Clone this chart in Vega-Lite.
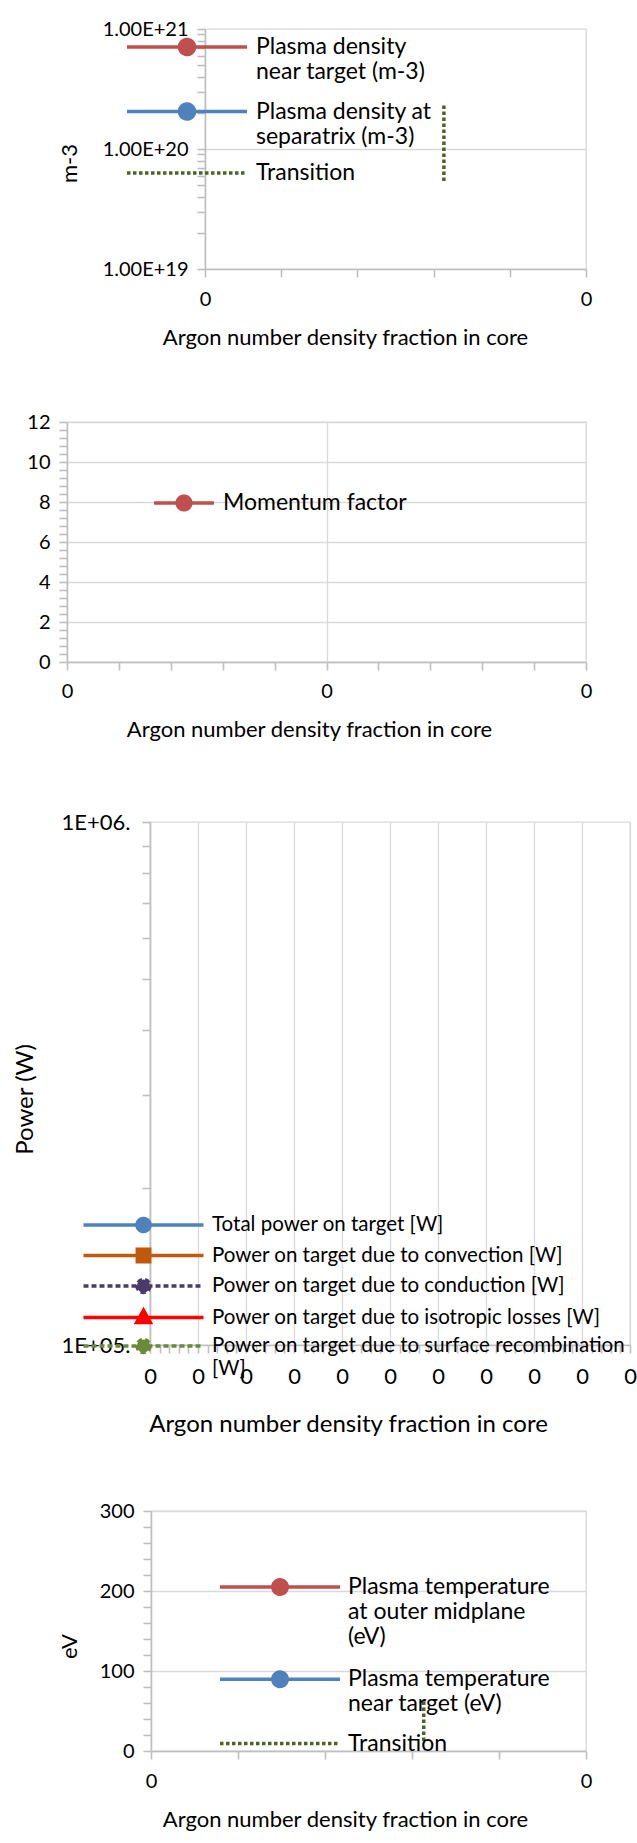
{
  "$schema": "https://vega.github.io/schema/vega-lite/v6.json",
  "background": "white",
  "padding": {"left": 0, "top": 18, "right": 0, "bottom": 0},
  "spacing": 0,
  "resolve": {"scale": {"fill": "independent", "stroke": "independent", "shape": "independent", "strokeDash": "independent"}},
  "vconcat": [
    {
      "spacing": 0,
      "resolve": {"scale": {"fill": "independent", "stroke": "independent", "shape": "independent", "strokeDash": "independent"}},
      "hconcat": [
        {"width": 57, "height": 382, "data": {"values": []}, "mark": "point", "view": {"stroke": null}},
        {
          "width": 381, "height": 240,
          "data": {"values": [
            {"series": "Plasma density near target (m-3)", "argon": null, "density": null},
            {"series": "Plasma density at separatrix (m-3)", "argon": null, "density": null},
            {"series": "Transition", "argon": 0.000627, "density": 5.4e19},
            {"series": "Transition", "argon": 0.000627, "density": 2.4e20}
          ]},
          "encoding": {
            "x": {"field": "argon", "type": "quantitative", "scale": {"domain": [0, 0.001], "nice": false, "zero": false},
              "axis": {"values": [0, 0.0002, 0.0004, 0.0006, 0.0008, 0.001],
                "labelExpr": "datum.value == 0 || datum.value == 0.001 ? '0' : ''",
                "grid": false, "tickSize": 8, "labelPadding": 12, "labelFontSize": 20,
                "title": "Argon number density fraction in core", "titleFontSize": 22,
                "titleX": 140, "titleY": 68, "titleBaseline": "middle", "titleAlign": "center"}},
            "y": {"field": "density", "type": "quantitative", "scale": {"type": "log", "domain": [1e19, 1e21], "nice": false},
              "axis": {"values": [1e19, 2e19, 3e19, 4e19, 5e19, 6e19, 7e19, 8e19, 9e19, 1e20, 2e20, 3e20, 4e20, 5e20, 6e20, 7e20, 8e20, 9e20, 1e21],
                "labelExpr": "indexof([1e19, 1e20, 1e21], datum.value) >= 0 ? '1.00E+' + round(log(datum.value) / LN10) : ''",
                "grid": true, "gridOpacity": {"condition": {"test": "datum.value == 1e20", "value": 1}, "value": 0},
                "tickSize": 8, "labelPadding": 9, "labelFontSize": 20,
                "title": "m-3", "titleFontSize": 22, "titleX": -136, "titleY": 134, "titleAngle": 270, "titleBaseline": "middle", "titleAlign": "center"}}
          },
          "layer": [
            {
              "transform": [{"filter": "datum.series === 'Transition'"}],
              "mark": {"type": "line", "color": "#4F6228", "strokeWidth": 3.5, "strokeDash": [3.5, 2.5], "strokeCap": "butt"},
              "encoding": {"order": {"field": "density"}}
            },
            {
              "transform": [{"filter": "datum.series !== 'Transition'"}],
              "mark": {"type": "point", "filled": true, "opacity": 1},
              "encoding": {
                "fill": {"field": "series", "type": "nominal",
                  "scale": {"domain": ["Plasma density near target (m-3)", "Plasma density at separatrix (m-3)", "Transition"], "range": ["#C0504D", "#4F81BD", "#4F6228"]},
                  "legend": {"title": null, "legendX": -30, "legendY": 6, "labelOffset": 57, "rowPadding": 12.5, "labelFontSize": 23,
                    "labelExpr": "datum.label == 'Plasma density near target (m-3)' ? ['Plasma density', 'near target (m-3)'] : datum.label == 'Plasma density at separatrix (m-3)' ? ['Plasma density at', 'separatrix (m-3)'] : datum.label",
                    "encode": {"labels": {"lineHeight": {"value": 24}}}}},
                "stroke": {"field": "series", "type": "nominal",
                  "scale": {"domain": ["Plasma density near target (m-3)", "Plasma density at separatrix (m-3)", "Transition"], "range": ["#C0504D", "#4F81BD", "#4F6228"]},
                  "legend": {"title": null, "legendX": -30, "legendY": 6, "labelOffset": 57, "rowPadding": 12.5, "labelFontSize": 23,
                    "labelExpr": "datum.label == 'Plasma density near target (m-3)' ? ['Plasma density', 'near target (m-3)'] : datum.label == 'Plasma density at separatrix (m-3)' ? ['Plasma density at', 'separatrix (m-3)'] : datum.label",
                    "encode": {"labels": {"lineHeight": {"value": 24}}}}},
                "shape": {"field": "series", "type": "nominal",
                  "scale": {"domain": ["Plasma density near target (m-3)", "Plasma density at separatrix (m-3)", "Transition"],
                    "range": ["M-6,0H6M0.75,0A0.75,0.75,0,1,1,-0.75,0A0.75,0.75,0,1,1,0.75,0Z", "M-6,0H6M0.75,0A0.75,0.75,0,1,1,-0.75,0A0.75,0.75,0,1,1,0.75,0Z", "M-6,0H6"]},
                  "legend": {"title": null, "legendX": -30, "legendY": 6, "labelOffset": 57, "rowPadding": 12.5, "labelFontSize": 23,
                    "labelExpr": "datum.label == 'Plasma density near target (m-3)' ? ['Plasma density', 'near target (m-3)'] : datum.label == 'Plasma density at separatrix (m-3)' ? ['Plasma density at', 'separatrix (m-3)'] : datum.label",
                    "encode": {"labels": {"lineHeight": {"value": 24}}}}},
                "strokeDash": {"field": "series", "type": "nominal",
                  "scale": {"domain": ["Plasma density near target (m-3)", "Plasma density at separatrix (m-3)", "Transition"], "range": [[1, 0], [1, 0], [3.5, 2.5]]},
                  "legend": {"title": null, "legendX": -30, "legendY": 6, "labelOffset": 57, "rowPadding": 12.5, "labelFontSize": 23,
                    "labelExpr": "datum.label == 'Plasma density near target (m-3)' ? ['Plasma density', 'near target (m-3)'] : datum.label == 'Plasma density at separatrix (m-3)' ? ['Plasma density at', 'separatrix (m-3)'] : datum.label",
                    "encode": {"labels": {"lineHeight": {"value": 24}}}}}
              }
            }
          ]
        }
      ]
    },
    {
      "spacing": 0,
      "resolve": {"scale": {"fill": "independent", "stroke": "independent", "shape": "independent", "strokeDash": "independent"}},
      "hconcat": [
        {"width": 26, "height": 388, "data": {"values": []}, "mark": "point", "view": {"stroke": null}},
        {
          "width": 519, "height": 240,
          "data": {"values": [{"series": "Momentum factor", "argon": null, "factor": null}]},
          "mark": {"type": "point", "filled": true, "opacity": 1},
          "encoding": {
            "x": {"field": "argon", "type": "quantitative", "scale": {"domain": [0, 0.001], "nice": false, "zero": false},
              "axis": {"values": [0, 0.0001, 0.0002, 0.0003, 0.0004, 0.0005, 0.0006, 0.0007, 0.0008, 0.0009, 0.001],
                "labelExpr": "datum.value == 0 || datum.value == 0.0005 || datum.value == 0.001 ? '0' : ''",
                "grid": true, "gridOpacity": {"condition": {"test": "datum.value == 0.0005", "value": 1}, "value": 0},
                "tickSize": 8, "labelPadding": 11, "labelFontSize": 20,
                "title": "Argon number density fraction in core", "titleFontSize": 22,
                "titleX": 242, "titleY": 67, "titleBaseline": "middle", "titleAlign": "center"}},
            "y": {"field": "factor", "type": "quantitative", "scale": {"domain": [0, 12], "nice": false},
              "axis": {"values": [0, 0.4, 0.8, 1.2, 1.6, 2, 2.4, 2.8, 3.2, 3.6, 4, 4.4, 4.8, 5.2, 5.6, 6, 6.4, 6.8, 7.2, 7.6, 8, 8.4, 8.8, 9.2, 9.6, 10, 10.4, 10.8, 11.2, 11.6, 12],
                "labelExpr": "datum.value % 2 == 0 ? format(datum.value, 'd') : ''",
                "grid": true, "gridOpacity": {"condition": {"test": "datum.value % 2 == 0", "value": 1}, "value": 0},
                "tickSize": 8, "labelPadding": 9, "labelFontSize": 20, "title": null}},
            "fill": {"field": "series", "type": "nominal", "scale": {"domain": ["Momentum factor"], "range": ["#C0504D"]},
              "legend": {"title": null, "legendX": 105, "legendY": 69, "labelOffset": 27, "labelFontSize": 23}},
            "stroke": {"field": "series", "type": "nominal", "scale": {"domain": ["Momentum factor"], "range": ["#C0504D"]},
              "legend": {"title": null, "legendX": 105, "legendY": 69, "labelOffset": 27, "labelFontSize": 23}},
            "shape": {"field": "series", "type": "nominal", "scale": {"domain": ["Momentum factor"], "range": ["M-3,0H3M0.68,0A0.68,0.68,0,1,1,-0.68,0A0.68,0.68,0,1,1,0.68,0Z"]},
              "legend": {"title": null, "legendX": 105, "legendY": 69, "labelOffset": 27, "labelFontSize": 23}},
            "strokeDash": {"field": "series", "type": "nominal", "scale": {"domain": ["Momentum factor"], "range": [[1, 0]]},
              "legend": {"title": null, "legendX": 105, "legendY": 69, "labelOffset": 27, "labelFontSize": 23}}
          }
        }
      ]
    },
    {
      "spacing": 0,
      "resolve": {"scale": {"fill": "independent", "stroke": "independent", "shape": "independent", "strokeDash": "independent"}},
      "hconcat": [
        {"width": 12, "height": 678, "data": {"values": []}, "mark": "point", "view": {"stroke": null}},
        {
          "width": 480, "height": 523,
          "data": {"values": [
            {"series": "Total power on target [W]", "argon": null, "power": null},
            {"series": "Power on target due to convection [W]", "argon": null, "power": null},
            {"series": "Power on target due to conduction [W]", "argon": null, "power": null},
            {"series": "Power on target due to isotropic losses [W]", "argon": null, "power": null},
            {"series": "Power on target due to surface recombination [W]", "argon": null, "power": null}
          ]},
          "mark": {"type": "point", "filled": true, "opacity": 1},
          "encoding": {
            "x": {"field": "argon", "type": "quantitative", "scale": {"domain": [0, 0.001], "nice": false, "zero": false},
              "axis": {"values": [0, 0.00002, 0.00004, 0.00006, 0.00008, 0.0001, 0.00012, 0.00014, 0.00016, 0.00018, 0.0002, 0.00022, 0.00024, 0.00026, 0.00028, 0.0003, 0.00032, 0.00034, 0.00036, 0.00038, 0.0004, 0.00042, 0.00044, 0.00046, 0.00048, 0.0005, 0.00052, 0.00054, 0.00056, 0.00058, 0.0006, 0.00062, 0.00064, 0.00066, 0.00068, 0.0007, 0.00072, 0.00074, 0.00076, 0.00078, 0.0008, 0.00082, 0.00084, 0.00086, 0.00088, 0.0009, 0.00092, 0.00094, 0.00096, 0.00098, 0.001],
                "labelExpr": "abs(datum.value * 10000 - round(datum.value * 10000)) < 0.000001 ? '0' : ''",
                "grid": true, "gridOpacity": {"condition": {"test": "abs(datum.value * 10000 - round(datum.value * 10000)) < 0.000001", "value": 1}, "value": 0},
                "tickSize": 8, "labelPadding": 13, "labelFontSize": 22,
                "title": "Argon number density fraction in core", "titleFontSize": 24,
                "titleX": 198, "titleY": 79, "titleBaseline": "middle", "titleAlign": "center"}},
            "y": {"field": "power", "type": "quantitative", "scale": {"type": "log", "domain": [1e5, 1e6], "nice": false},
              "axis": {"values": [1e5, 2e5, 3e5, 4e5, 5e5, 6e5, 7e5, 8e5, 9e5, 1e6],
                "labelExpr": "datum.value == 1e6 ? '1E+06.' : datum.value == 1e5 ? '1E+05.' : ''",
                "grid": false, "tickSize": 8, "labelPadding": 12, "labelFontSize": 22,
                "title": "Power (W)", "titleFontSize": 24, "titleX": -125, "titleY": 277, "titleAngle": 270, "titleBaseline": "middle", "titleAlign": "center"}},
            "fill": {"field": "series", "type": "nominal",
              "scale": {"domain": ["Total power on target [W]", "Power on target due to convection [W]", "Power on target due to conduction [W]", "Power on target due to isotropic losses [W]", "Power on target due to surface recombination [W]"],
                "range": ["#4F81BD", "#C0590E", "#4A3C6A", "#FF0000", "#6A8A3A"]},
              "legend": {"title": null, "legendX": -18.5, "legendY": 391, "labelOffset": 56.5, "rowPadding": 2.5, "labelFontSize": 20.5,
                "labelExpr": "datum.label == 'Power on target due to surface recombination [W]' ? ['Power on target due to surface recombination', '[W]'] : datum.label",
                "encode": {"labels": {"lineHeight": {"value": 21}}}}},
            "stroke": {"field": "series", "type": "nominal",
              "scale": {"domain": ["Total power on target [W]", "Power on target due to convection [W]", "Power on target due to conduction [W]", "Power on target due to isotropic losses [W]", "Power on target due to surface recombination [W]"],
                "range": ["#4F81BD", "#C0590E", "#4A3C6A", "#FF0000", "#6A8A3A"]},
              "legend": {"title": null, "legendX": -18.5, "legendY": 391, "labelOffset": 56.5, "rowPadding": 2.5, "labelFontSize": 20.5,
                "labelExpr": "datum.label == 'Power on target due to surface recombination [W]' ? ['Power on target due to surface recombination', '[W]'] : datum.label",
                "encode": {"labels": {"lineHeight": {"value": 21}}}}},
            "shape": {"field": "series", "type": "nominal",
              "scale": {"domain": ["Total power on target [W]", "Power on target due to convection [W]", "Power on target due to conduction [W]", "Power on target due to isotropic losses [W]", "Power on target due to surface recombination [W]"],
                "range": ["M-6,0H6M0.65,0A0.65,0.65,0,1,1,-0.65,0A0.65,0.65,0,1,1,0.65,0Z", "M-6,0H6M-0.62,-0.62H0.62V0.62H-0.62Z", "M-6,0H6M0.65,0A0.65,0.65,0,1,1,-0.65,0A0.65,0.65,0,1,1,0.65,0Z", "M-6,0H6M0,-0.72L0.68,0.5H-0.68Z", "M-6,0H6M0.65,0A0.65,0.65,0,1,1,-0.65,0A0.65,0.65,0,1,1,0.65,0Z"]},
              "legend": {"title": null, "legendX": -18.5, "legendY": 391, "labelOffset": 56.5, "rowPadding": 2.5, "labelFontSize": 20.5,
                "labelExpr": "datum.label == 'Power on target due to surface recombination [W]' ? ['Power on target due to surface recombination', '[W]'] : datum.label",
                "encode": {"labels": {"lineHeight": {"value": 21}}}}},
            "strokeDash": {"field": "series", "type": "nominal",
              "scale": {"domain": ["Total power on target [W]", "Power on target due to convection [W]", "Power on target due to conduction [W]", "Power on target due to isotropic losses [W]", "Power on target due to surface recombination [W]"],
                "range": [[1, 0], [1, 0], [5, 3], [1, 0], [5, 3]]},
              "legend": {"title": null, "legendX": -18.5, "legendY": 391, "labelOffset": 56.5, "rowPadding": 2.5, "labelFontSize": 20.5,
                "labelExpr": "datum.label == 'Power on target due to surface recombination [W]' ? ['Power on target due to surface recombination', '[W]'] : datum.label",
                "encode": {"labels": {"lineHeight": {"value": 21}}}}}
          }
        }
      ]
    },
    {
      "spacing": 0,
      "resolve": {"scale": {"fill": "independent", "stroke": "independent", "shape": "independent", "strokeDash": "independent"}},
      "hconcat": [
        {"width": 57, "height": 10, "data": {"values": []}, "mark": "point", "view": {"stroke": null}},
        {
          "width": 435, "height": 240,
          "data": {"values": [
            {"series": "Plasma temperature at outer midplane (eV)", "argon": null, "temp": null},
            {"series": "Plasma temperature near target (eV)", "argon": null, "temp": null},
            {"series": "Transition", "argon": 0.000627, "temp": 12.5},
            {"series": "Transition", "argon": 0.000627, "temp": 64}
          ]},
          "encoding": {
            "x": {"field": "argon", "type": "quantitative", "scale": {"domain": [0, 0.001], "nice": false, "zero": false},
              "axis": {"values": [0, 0.0002, 0.0004, 0.0006, 0.0008, 0.001],
                "labelExpr": "datum.value == 0 || datum.value == 0.001 ? '0' : ''",
                "grid": false, "tickSize": 8, "labelPadding": 12, "labelFontSize": 20,
                "title": "Argon number density fraction in core", "titleFontSize": 22,
                "titleX": 194, "titleY": 68, "titleBaseline": "middle", "titleAlign": "center"}},
            "y": {"field": "temp", "type": "quantitative", "scale": {"domain": [0, 300], "nice": false},
              "axis": {"values": [0, 20, 40, 60, 80, 100, 120, 140, 160, 180, 200, 220, 240, 260, 280, 300],
                "labelExpr": "datum.value % 100 == 0 ? format(datum.value, 'd') : ''",
                "grid": true, "gridOpacity": {"condition": {"test": "datum.value % 100 == 0", "value": 1}, "value": 0},
                "tickSize": 8, "labelPadding": 9, "labelFontSize": 20,
                "title": "eV", "titleFontSize": 22, "titleX": -82, "titleY": 135, "titleAngle": 270, "titleBaseline": "middle", "titleAlign": "center"}}
          },
          "layer": [
            {
              "transform": [{"filter": "datum.series === 'Transition'"}],
              "mark": {"type": "line", "color": "#4F6228", "strokeWidth": 3.5, "strokeDash": [3.5, 2.5], "strokeCap": "butt"},
              "encoding": {"order": {"field": "temp"}}
            },
            {
              "transform": [{"filter": "datum.series !== 'Transition'"}],
              "mark": {"type": "point", "filled": true, "opacity": 1},
              "encoding": {
                "fill": {"field": "series", "type": "nominal",
                  "scale": {"domain": ["Plasma temperature at outer midplane (eV)", "Plasma temperature near target (eV)", "Transition"], "range": ["#C0504D", "#4F81BD", "#4F6228"]},
                  "legend": {"title": null, "legendX": 117, "legendY": 64, "labelOffset": 56, "rowPadding": 15.25, "labelFontSize": 23,
                    "labelExpr": "datum.label == 'Plasma temperature at outer midplane (eV)' ? ['Plasma temperature', 'at outer midplane', '(eV)'] : datum.label == 'Plasma temperature near target (eV)' ? ['Plasma temperature', 'near target (eV)'] : datum.label",
                    "encode": {"labels": {"lineHeight": {"value": 24}}}}},
                "stroke": {"field": "series", "type": "nominal",
                  "scale": {"domain": ["Plasma temperature at outer midplane (eV)", "Plasma temperature near target (eV)", "Transition"], "range": ["#C0504D", "#4F81BD", "#4F6228"]},
                  "legend": {"title": null, "legendX": 117, "legendY": 64, "labelOffset": 56, "rowPadding": 15.25, "labelFontSize": 23,
                    "labelExpr": "datum.label == 'Plasma temperature at outer midplane (eV)' ? ['Plasma temperature', 'at outer midplane', '(eV)'] : datum.label == 'Plasma temperature near target (eV)' ? ['Plasma temperature', 'near target (eV)'] : datum.label",
                    "encode": {"labels": {"lineHeight": {"value": 24}}}}},
                "shape": {"field": "series", "type": "nominal",
                  "scale": {"domain": ["Plasma temperature at outer midplane (eV)", "Plasma temperature near target (eV)", "Transition"],
                    "range": ["M-6,0H6M0.72,0A0.72,0.72,0,1,1,-0.72,0A0.72,0.72,0,1,1,0.72,0Z", "M-6,0H6M0.72,0A0.72,0.72,0,1,1,-0.72,0A0.72,0.72,0,1,1,0.72,0Z", "M-6,0H6"]},
                  "legend": {"title": null, "legendX": 117, "legendY": 64, "labelOffset": 56, "rowPadding": 15.25, "labelFontSize": 23,
                    "labelExpr": "datum.label == 'Plasma temperature at outer midplane (eV)' ? ['Plasma temperature', 'at outer midplane', '(eV)'] : datum.label == 'Plasma temperature near target (eV)' ? ['Plasma temperature', 'near target (eV)'] : datum.label",
                    "encode": {"labels": {"lineHeight": {"value": 24}}}}},
                "strokeDash": {"field": "series", "type": "nominal",
                  "scale": {"domain": ["Plasma temperature at outer midplane (eV)", "Plasma temperature near target (eV)", "Transition"], "range": [[1, 0], [1, 0], [3.5, 2.5]]},
                  "legend": {"title": null, "legendX": 117, "legendY": 64, "labelOffset": 56, "rowPadding": 15.25, "labelFontSize": 23,
                    "labelExpr": "datum.label == 'Plasma temperature at outer midplane (eV)' ? ['Plasma temperature', 'at outer midplane', '(eV)'] : datum.label == 'Plasma temperature near target (eV)' ? ['Plasma temperature', 'near target (eV)'] : datum.label",
                    "encode": {"labels": {"lineHeight": {"value": 24}}}}}
              }
            }
          ]
        }
      ]
    }
  ],
  "config": {
    "font": "Lato",
    "view": {"stroke": "#D9D9D9", "strokeWidth": 1.3},
    "axis": {
      "domainColor": "#BFBFBF", "domainWidth": 1.6,
      "tickColor": "#BFBFBF", "tickWidth": 1.6,
      "gridColor": "#D9D9D9", "gridWidth": 1.3,
      "labelColor": "#000000", "titleColor": "#000000",
      "labelFont": "Lato", "titleFont": "Lato", "titleFontWeight": "normal",
      "labelFlush": false, "labelOverlap": false
    },
    "legend": {
      "orient": "none", "padding": 0, "symbolSize": 400, "symbolStrokeWidth": 3.5, "symbolOffset": 0,
      "labelLimit": 800, "labelColor": "#000000", "labelFont": "Lato", "labelBaseline": "middle",
      "columnPadding": 0
    }
  }
}
